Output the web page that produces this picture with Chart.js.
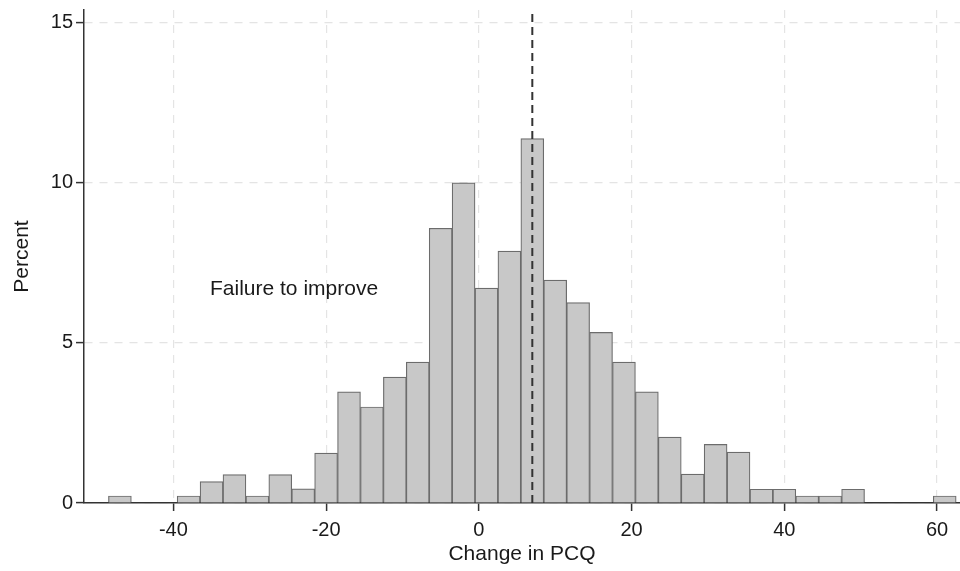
<!DOCTYPE html>
<html>
<head>
<script src="https://cdn.jsdelivr.net/npm/chart.js@4.4.1/dist/chart.umd.min.js"></script>
<style>
  body { margin: 0; background: #fff; }
  #wrap { width: 960px; height: 571px; }
</style>
</head>
<body>
<div id="wrap"><canvas id="hist"></canvas></div>

<script>
// bin centres (width 3) and percent per bin
var binCenters = [-47, -44, -41, -38, -35, -32, -29, -26, -23, -20, -17, -14, -11, -8, -5, -2,
                  1, 4, 7, 10, 13, 16, 19, 22, 25, 28, 31, 34, 37, 40, 43, 46, 49, 52, 55, 58, 61];
var percents   = [0.22, 0, 0, 0.22, 0.67, 0.89, 0.22, 0.89, 0.44, 1.56, 3.47, 3.0, 3.93, 4.4, 8.58, 10.0,
                  6.71, 7.87, 11.38, 6.96, 6.26, 5.33, 4.4, 3.47, 2.06, 0.9, 1.83, 1.59, 0.43, 0.43, 0.22, 0.22, 0.43, 0, 0, 0, 0.22];
var xTicks = [-40, -20, 0, 20, 40, 60];
var yTicks = [0, 5, 10, 15];
var meanChange = 7;
var noteText = "Failure to improve";
var notePos = [-35.2, 6.5];

var xMin = -51.7, xMax = 63, yMax = 15.4;

var barData = [];
for (var i = 0; i < binCenters.length; i++) {
	barData.push({x: binCenters[i], y: percents[i] === 0 ? null : percents[i]});
}

var noteLabel = {
	id: 'noteLabel',
	afterDatasetsDraw: function(chart) {
		var ctx = chart.ctx;
		ctx.save();
		ctx.font = '21px "Liberation Sans", Arial, sans-serif';
		ctx.fillStyle = '#1a1a1a';
		ctx.textAlign = 'left';
		ctx.textBaseline = 'alphabetic';
		ctx.fillText(noteText, chart.scales.x.getPixelForValue(notePos[0]), chart.scales.y.getPixelForValue(notePos[1]));
		ctx.restore();
	}
};

var tickFont = {family: '"Liberation Sans", Arial, sans-serif', size: 20};
var titleFont = {family: '"Liberation Sans", Arial, sans-serif', size: 21};

new Chart(document.getElementById('hist').getContext('2d'), {
	type: 'bar',
	data: {
		datasets: [{
			type: 'line',
			data: [{x: meanChange, y: 0}, {x: meanChange, y: yMax}],
			borderColor: '#333333',
			borderWidth: 2,
			borderDash: [8, 5],
			pointRadius: 0,
			order: 0
		}, {
			type: 'bar',
			data: barData,
			backgroundColor: '#c8c8c8',
			borderColor: '#6c6c6c',
			borderWidth: 1.2,
			barPercentage: 1,
			categoryPercentage: 1,
			order: 1
		}]
	},
	options: {
		responsive: true,
		maintainAspectRatio: false,
		animation: false,
		layout: {padding: {top: 10, right: 0, left: 0, bottom: 0}},
		plugins: {legend: {display: false}, tooltip: {enabled: false}},
		scales: {
			x: {
				type: 'linear',
				min: xMin,
				max: xMax,
				offset: false,
				afterBuildTicks: function(s) { s.ticks = xTicks.map(function(v) { return {value: v}; }); },
				afterFit: function(s) { s.height = 68; s.paddingLeft = 0; s.paddingRight = 0; },
				ticks: {font: tickFont, color: '#1a1a1a', padding: 7, maxRotation: 0},
				grid: {offset: false, color: '#e4e4e4', lineWidth: 1.2, tickLength: 8, tickColor: '#333', tickWidth: 1.5},
				border: {color: '#333', width: 1.5, dash: [8, 7]},
				title: {display: true, text: 'Change in PCQ', font: titleFont, color: '#1a1a1a', padding: {top: 0, bottom: 4}}
			},
			y: {
				min: 0,
				max: yMax,
				afterBuildTicks: function(s) { s.ticks = yTicks.map(function(v) { return {value: v}; }); },
				afterFit: function(s) { s.width = 84; s.paddingTop = 0; s.paddingBottom = 0; },
				ticks: {font: tickFont, color: '#1a1a1a', padding: 3},
				grid: {color: '#e4e4e4', lineWidth: 1.2, tickLength: 8, tickColor: '#333', tickWidth: 1.5},
				border: {color: '#333', width: 1.5, dash: [8, 7]},
				title: {display: true, text: 'Percent', font: titleFont, color: '#1a1a1a', padding: {top: 10, bottom: 0}}
			}
		}
	},
	plugins: [noteLabel]
});
</script>
</body>
</html>
